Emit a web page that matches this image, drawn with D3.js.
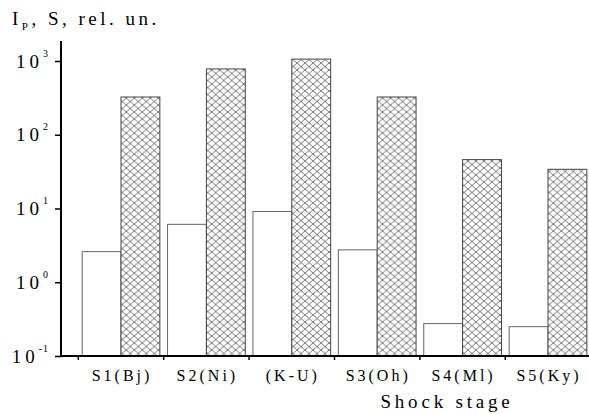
<!DOCTYPE html>
<html><head><meta charset="utf-8">
<script src="https://cdn.jsdelivr.net/npm/d3@7"></script>
<style>
body{margin:0;background:#fff;}
</style></head>
<body><svg id="c" width="589" height="414"></svg>
<script>
const categories = ["S1(Bj)","S2(Ni)","(K-U)","S3(Oh)","S4(Ml)","S5(Ky)"];
const seriesNames = ["Ip","S"];
const ipValues = [2.6, 6.1, 9.1, 2.75, 0.275, 0.25];
const sValues = [325, 780, 1060, 325, 46, 34];
const yTickValues = [0.1, 1, 10, 100, 1000];
const yTickExponents = ["-1","0","1","2","3"];

const FONT = "'Liberation Serif', 'Times New Roman', 'DejaVu Serif', serif";
const svg = d3.select("#c").attr("font-family", FONT);
const defs = svg.append("defs");
const pat = defs.append("pattern").attr("id","hatch").attr("patternUnits","userSpaceOnUse")
  .attr("width",8).attr("height",7);
pat.append("rect").attr("width",8).attr("height",7).attr("fill","#fff");
pat.append("path").attr("d","M0,0L8,7M8,0L0,7").attr("stroke","#555").attr("stroke-width",0.8).attr("fill","none");

const x0 = d3.scaleBand().domain(categories).range([78.3, 590.7]).padding(0);
const x1 = d3.scaleBand().domain(seriesNames).range([0, x0.bandwidth()]).paddingInner(0).paddingOuter(0.099);
const y = d3.scaleLog().domain([0.1, 1000]).range([356, 61]);

const data = categories.map((c,i)=>({c, vals:[{k:"Ip",v:ipValues[i]},{k:"S",v:sValues[i]}]}));

const g = svg.append("g");
g.selectAll("g.grp").data(data).join("g").attr("class","grp")
  .attr("transform",d=>`translate(${x0(d.c)},0)`)
  .selectAll("rect").data(d=>d.vals).join("rect")
  .attr("x",d=>x1(d.k)).attr("width",x1.bandwidth())
  .attr("y",d=>y(d.v)).attr("height",d=>y(0.1)-y(d.v))
  .attr("fill",d=>d.k==="S"?"url(#hatch)":"#fff")
  .attr("stroke",d=>d.k==="S"?"#444":"#666").attr("stroke-width",1);

// Y axis
const yAxis = svg.append("g").attr("transform","translate(61,0)")
  .call(d3.axisLeft(y).tickValues(yTickValues).tickSize(6).tickFormat(""));
yAxis.select(".domain").attr("d","M0,41V356").attr("stroke","#000").attr("stroke-width",2);
yAxis.selectAll(".tick line").attr("stroke","#000").attr("stroke-width",1.5);
yTickValues.forEach((v,i)=>{
  const t = svg.append("text").attr("x",49).attr("y",y(v)+6.5).attr("text-anchor","end")
    .attr("font-family",FONT).attr("font-size",19).attr("letter-spacing",4).attr("fill","#000");
  t.append("tspan").text("10");
  t.append("tspan").attr("dy",-11).attr("font-size",10).attr("letter-spacing",1).text(yTickExponents[i]);
});

// X axis
svg.append("line").attr("x1",60).attr("x2",589).attr("y1",356).attr("y2",356).attr("stroke","#000").attr("stroke-width",2);
categories.forEach(c=>{
  svg.append("line").attr("x1",x0(c)).attr("x2",x0(c)).attr("y1",356).attr("y2",360).attr("stroke","#000").attr("stroke-width",1.5);
  svg.append("text").attr("x",x0(c)+x0.bandwidth()/2+1).attr("y",381).attr("text-anchor","middle")
    .attr("font-family",FONT).attr("font-size",16).attr("letter-spacing",3).text(c);
});

// titles
svg.append("text").attr("x",447).attr("y",408).attr("text-anchor","middle")
  .attr("font-family",FONT).attr("font-size",19).attr("letter-spacing",3.8).text("Shock stage");
const tt = svg.append("text").attr("x",12).attr("y",25).attr("font-family",FONT).attr("font-size",19).attr("letter-spacing",3.5);
tt.append("tspan").text("I");
tt.append("tspan").attr("dy",5).attr("font-size",11).text("P");
tt.append("tspan").attr("dy",-5).text(", S, rel. un.");
</script></body></html>
